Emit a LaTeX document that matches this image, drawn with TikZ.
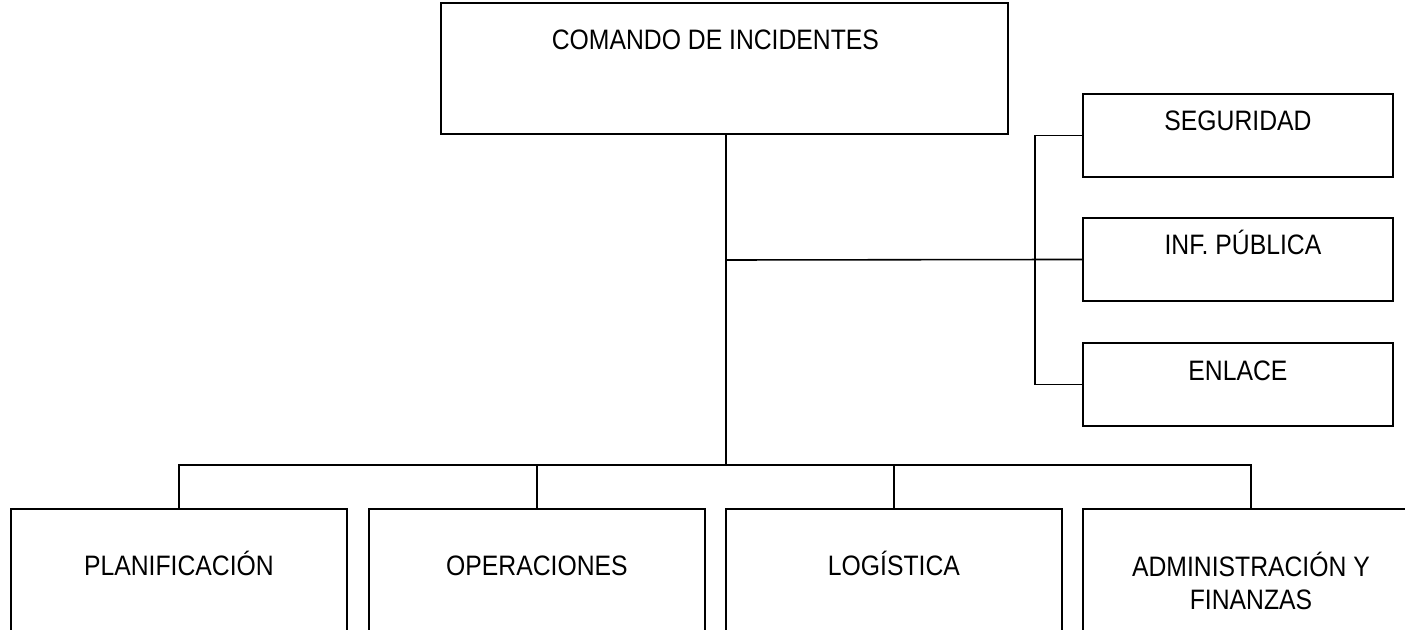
\documentclass[tikz,border=0pt]{standalone}
\usepackage{fontspec}
\setmainfont[FakeStretch=0.88]{Liberation Sans}
\usetikzlibrary{positioning}

\begin{document}
\begin{tikzpicture}[x=0.02cm,y=-0.02cm,
    box/.style={draw,line width=1.1pt,anchor=north west,inner sep=0pt},
    side/.style={box,minimum width=6.2cm,minimum height=1.66cm},
    unit/.style={box,minimum width=6.72cm,minimum height=3cm},
    lbl/.style={font=\fontsize{16}{19.3}\selectfont,align=center,anchor=base},
    link/.style={line width=0.9pt}]
  \clip (0,0) rectangle (1405,629);
  % boxes
  \node[box,minimum width=11.34cm,minimum height=2.62cm] (cmd) at (440,2) {};
  \node[side] (seg) at (1082,93) {};
  \node[side] (inf) at (1082,217) {};
  \node[side] (enl) at (1082,342) {};
  \node[unit] (plan) at (10,508) {};
  \node[unit] (ops) at (368,508) {};
  \node[unit] (log) at (725,508) {};
  \node[unit] (adm) at (1082,508) {};
  % texts
  \node[lbl] (cmdtxt) at ([xshift=-0.18cm,yshift=-0.96cm]cmd.north) {COMANDO DE INCIDENTES};
  \node[lbl] (segtxt) at ([yshift=-0.76cm]seg.north) {SEGURIDAD};
  \node[lbl] (inftxt) at ([xshift=0.1cm,yshift=-0.76cm]inf.north) {INF. PÚBLICA};
  \node[lbl] (enltxt) at ([yshift=-0.76cm]enl.north) {ENLACE};
  \node[lbl] (plantxt) at ([yshift=-1.36cm]plan.north) {PLANIFICACIÓN};
  \node[lbl] (opstxt) at ([yshift=-1.36cm]ops.north) {OPERACIONES};
  \node[lbl] (logtxt) at ([yshift=-1.36cm]log.north) {LOGÍSTICA};
  \node[lbl] (admtxt) at ([yshift=-2.04cm]adm.north) {ADMINISTRACIÓN Y\\FINANZAS};
  % lines
  \coordinate (bus) at (726,465);
  \coordinate (mid) at (726,260);
  \draw[link] (cmd.south -| bus) -- (bus);
  \draw[link] (mid) -- (inf.west);
  \draw[link] (seg.west) -- ++(-47,0) |- (enl.west);
  \draw[link] (plan.north) -- ++(0,-43) -| (adm.north);
  \draw[link] (ops.north) -- (ops.north |- bus);
  \draw[link] (log.north) -- (log.north |- bus);
\end{tikzpicture}
\end{document}
